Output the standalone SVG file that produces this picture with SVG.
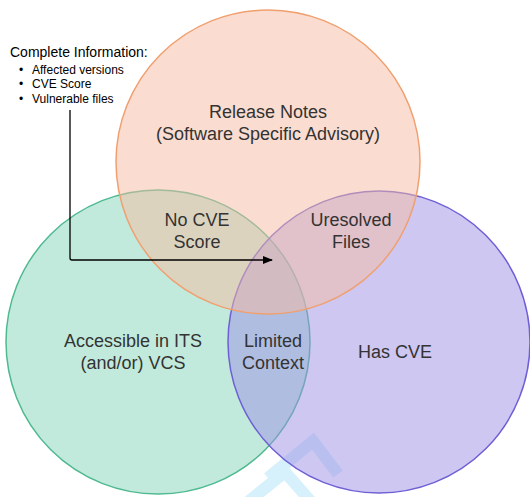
<svg xmlns="http://www.w3.org/2000/svg" width="530" height="497" viewBox="0 0 530 497">
  <style>
    .lbl { font-family: "Liberation Sans", Arial, sans-serif; font-size: 18px; fill: #333333; text-anchor: middle; }
    .info { font-family: "Liberation Sans", Arial, sans-serif; fill: #000000; }
    .circ { stroke-width: 1.5; fill-opacity: 0.5; }
    .wm { fill: none; stroke: #d6f1fb; stroke-width: 12; stroke-linejoin: miter; }
  </style>
  <defs>
    <marker id="arrow" markerWidth="10" markerHeight="8" refX="9" refY="4" orient="auto" markerUnits="userSpaceOnUse">
      <path d="M0,0 L10,4 L0,8 Z" fill="#000000"/>
    </marker>
  </defs>
  <rect width="530" height="497" fill="#ffffff"/>
  <g id="watermark">
    <polyline class="wm" points="268,478 313,441 338,474"/>
    <polyline class="wm" points="238,510 285,472 320,512"/>
  </g>
  <g id="circle-its">
    <circle class="circ" cx="158" cy="342" r="152" fill="#85d5b9" stroke="#4fb990"/>
  </g>
  <g id="circle-cve">
    <circle class="circ" cx="379" cy="342" r="151" fill="#9b8fe5" stroke="#6e5fd6"/>
  </g>
  <g id="circle-release">
    <circle class="circ" cx="268" cy="162" r="152" fill="#f5bca1" stroke="#f0a070"/>
  </g>
  <g id="label-release">
    <text class="lbl" x="268" y="118">Release Notes</text>
    <text class="lbl" x="268" y="140">(Software Specific Advisory)</text>
  </g>
  <g id="label-nocve">
    <text class="lbl" x="197" y="226">No CVE</text>
    <text class="lbl" x="197" y="248">Score</text>
  </g>
  <g id="label-unresolved">
    <text class="lbl" x="351" y="226">Uresolved</text>
    <text class="lbl" x="351" y="248">Files</text>
  </g>
  <g id="label-its">
    <text class="lbl" x="133" y="347">Accessible in ITS</text>
    <text class="lbl" x="133" y="369">(and/or) VCS</text>
  </g>
  <g id="label-limited">
    <text class="lbl" x="273" y="347">Limited</text>
    <text class="lbl" x="273" y="369">Context</text>
  </g>
  <g id="label-hascve">
    <text class="lbl" x="395" y="358">Has CVE</text>
  </g>
  <g id="info">
    <text class="info" x="10" y="57" font-size="14">Complete Information:</text>
    <text class="info" x="19" y="74" font-size="12">•</text>
    <text class="info" x="32" y="74" font-size="12">Affected versions</text>
    <text class="info" x="19" y="88" font-size="12">•</text>
    <text class="info" x="32" y="88" font-size="12">CVE Score</text>
    <text class="info" x="19" y="103" font-size="12">•</text>
    <text class="info" x="32" y="103" font-size="12">Vulnerable files</text>
  </g>
  <g id="connectors">
    <path d="M70,110 L70,258 Q70,260 72,260 L272,260" fill="none" stroke="#000000" stroke-width="1.3" marker-end="url(#arrow)"/>
  </g>
</svg>
